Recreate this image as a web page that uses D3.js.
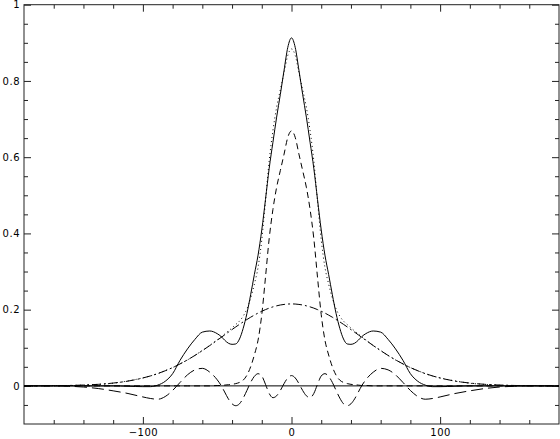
<!DOCTYPE html>
<html lang="en">
<head>
    <meta charset="UTF-8">
    <title>profile</title>
    <script src="https://cdn.jsdelivr.net/npm/d3@7"></script>
</head>
<style>
    body { margin: 0; background: #fff; }
    .tick text { font-family: "DejaVu Sans", sans-serif; font-size: 10px; fill: #000; letter-spacing: 0.5px; }
</style>
<body>
    <div class="chartBox"></div>
    <script>
        // 横坐标采样点
        const xs = [-180, -170, -160, -150, -140, -130, -120, -110, -100, -95, -90, -85, -80, -75, -70, -65, -60, -55,
            -50, -47.5, -45, -42.5, -40, -37.5, -35, -32.5, -30, -27.5, -25, -22.5, -20, -17.5, -15, -12.5, -10, -7.5, -5, -2.5,
            0, 2.5, 5, 7.5, 10, 12.5, 15, 17.5, 20, 22.5, 25, 27.5, 30, 32.5, 35, 37.5, 40, 42.5, 45, 47.5, 50,
            55, 60, 65, 70, 75, 80, 85, 90, 95, 100, 110, 120, 130, 140, 150, 160, 170, 180];

        // 实线: 总和
        const total = [0, 0, 0, 0, 0, 0, 0, -0.001, -0.002, -0.002, 0.002, 0.012, 0.032, 0.067, 0.097, 0.122, 0.141, 0.144,
            0.137, 0.130, 0.120, 0.112, 0.109, 0.110, 0.123, 0.151, 0.190, 0.239, 0.292, 0.343, 0.409, 0.489, 0.571, 0.639, 0.705, 0.765, 0.828, 0.888,
            0.913, 0.888, 0.828, 0.765, 0.705, 0.639, 0.571, 0.489, 0.409, 0.343, 0.292, 0.239, 0.190, 0.151, 0.123, 0.110, 0.109, 0.112, 0.120, 0.130, 0.137,
            0.144, 0.141, 0.122, 0.097, 0.067, 0.032, 0.012, 0.002, -0.002, -0.002, -0.001, 0, 0, 0, 0, 0, 0, 0];

        // 点线: 窄峰 + 宽峰
        const smooth = [0, 0, 0.001, 0.001, 0.002, 0.004, 0.007, 0.013, 0.021, 0.026, 0.032, 0.040, 0.048, 0.058, 0.068, 0.080, 0.093, 0.106,
            0.121, 0.128, 0.136, 0.144, 0.152, 0.161, 0.170, 0.183, 0.202, 0.230, 0.267, 0.311, 0.383, 0.485, 0.591, 0.670, 0.731, 0.777, 0.822, 0.867,
            0.884, 0.867, 0.822, 0.777, 0.731, 0.670, 0.591, 0.485, 0.383, 0.311, 0.267, 0.230, 0.202, 0.183, 0.170, 0.161, 0.152, 0.144, 0.136, 0.128, 0.121,
            0.106, 0.093, 0.080, 0.068, 0.058, 0.048, 0.040, 0.032, 0.026, 0.021, 0.013, 0.007, 0.004, 0.002, 0.001, 0.001, 0, 0];

        // 虚线: 窄峰
        const narrow = [0, 0, 0, 0, 0, 0, 0, 0, 0, 0, 0, 0, 0, 0, 0, 0, 0, 0,
            0.001, 0.001, 0.002, 0.003, 0.004, 0.006, 0.009, 0.015, 0.028, 0.050, 0.081, 0.120, 0.187, 0.285, 0.387, 0.463, 0.521, 0.565, 0.608, 0.652,
            0.669, 0.652, 0.608, 0.565, 0.521, 0.463, 0.387, 0.285, 0.187, 0.120, 0.081, 0.050, 0.028, 0.015, 0.009, 0.006, 0.004, 0.003, 0.002, 0.001, 0.001,
            0, 0, 0, 0, 0, 0, 0, 0, 0, 0, 0, 0, 0, 0, 0, 0, 0, 0];

        // 点划线: 宽峰
        const broad = [0.0001, 0.0002, 0.0005, 0.0011, 0.0022, 0.0041, 0.0074, 0.0126, 0.0207, 0.0260, 0.0323, 0.0396, 0.0480, 0.0576, 0.0682, 0.0799, 0.0925, 0.1058,
            0.1197, 0.1267, 0.1338, 0.1408, 0.1478, 0.1547, 0.1614, 0.1679, 0.1741, 0.1801, 0.1857, 0.1910, 0.1958, 0.2001, 0.2040, 0.2073, 0.2100, 0.2122, 0.2137, 0.2147,
            0.2150, 0.2147, 0.2137, 0.2122, 0.2100, 0.2073, 0.2040, 0.2001, 0.1958, 0.1910, 0.1857, 0.1801, 0.1741, 0.1679, 0.1614, 0.1547, 0.1478, 0.1408, 0.1338, 0.1267, 0.1197,
            0.1058, 0.0925, 0.0799, 0.0682, 0.0576, 0.0480, 0.0396, 0.0323, 0.0260, 0.0207, 0.0126, 0.0074, 0.0041, 0.0022, 0.0011, 0.0005, 0.0002, 0.0001];

        // 长虚线: 振荡项
        const ripple = [0, 0, 0, -0.001, -0.003, -0.007, -0.013, -0.020, -0.029, -0.033, -0.035, -0.028, -0.012, 0.009, 0.029, 0.042, 0.046, 0.036,
            0.016, 0.002, -0.016, -0.034, -0.047, -0.052, -0.047, -0.032, -0.012, 0.009, 0.025, 0.032, 0.026, 0.004, -0.020, -0.031, -0.026, -0.012, 0.006, 0.021,
            0.027, 0.021, 0.006, -0.012, -0.026, -0.031, -0.020, 0.004, 0.026, 0.032, 0.025, 0.009, -0.012, -0.032, -0.047, -0.052, -0.047, -0.034, -0.016, 0.002, 0.016,
            0.036, 0.046, 0.042, 0.029, 0.009, -0.012, -0.028, -0.035, -0.033, -0.029, -0.020, -0.013, -0.007, -0.003, -0.001, 0, 0, 0];

        // 刻度
        const xMajor = [-100, 0, 100];
        const xTickLabels = ["\u2212100", "0", "100"];
        const yMajor = [0, 0.2, 0.4, 0.6, 0.8, 1];
        const yTickLabels = ["0", "0.2", "0.4", "0.6", "0.8", "1"];

        const width = 560;
        const height = 439;
        const svg = d3.select(".chartBox").append("svg").attr("width", width).attr("height", height);

        const x = d3.scaleLinear().domain([-180, 180]).range([24, 559]);
        const y = d3.scaleLinear().domain([-0.1, 1]).range([424, 4.7]);

        const xMinor = d3.range(-160, 161, 20).filter(v => v % 100 !== 0);
        const yMinor = d3.range(-0.05, 1.001, 0.05).filter(v => Math.abs(v * 5 - Math.round(v * 5)) > 1e-6);

        // 坐标轴(刻度朝内)
        const axisG = svg.append("g").attr("class", "axes");
        const addAxis = (axis, tr) => {
            const g = axisG.append("g").attr("transform", tr).call(axis);
            g.select(".domain").remove();
            g.selectAll("line").attr("stroke", "#222");
            return g;
        };
        addAxis(d3.axisBottom(x).tickValues(xMinor).tickSize(-4).tickFormat(""), `translate(0,${y(-0.1)})`);
        addAxis(d3.axisBottom(x).tickValues(xMajor).tickSize(-7).tickPadding(5)
            .tickFormat((d, i) => xTickLabels[i]), `translate(0,${y(-0.1)})`);
        addAxis(d3.axisTop(x).tickValues(xMinor).tickSize(-4).tickFormat(""), `translate(0,${y(1)})`);
        addAxis(d3.axisTop(x).tickValues(xMajor).tickSize(-7).tickFormat(""), `translate(0,${y(1)})`);
        addAxis(d3.axisLeft(y).tickValues(yMinor).tickSize(-4).tickFormat(""), `translate(${x(-180)},0)`);
        addAxis(d3.axisLeft(y).tickValues(yMajor).tickSize(-7).tickPadding(4)
            .tickFormat((d, i) => yTickLabels[i]), `translate(${x(-180)},0)`);
        addAxis(d3.axisRight(y).tickValues(yMinor).tickSize(-4).tickFormat(""), `translate(${x(180)},0)`);
        addAxis(d3.axisRight(y).tickValues(yMajor).tickSize(-7).tickFormat(""), `translate(${x(180)},0)`);

        // 边框
        svg.append("rect")
            .attr("x", x(-180)).attr("y", y(1))
            .attr("width", x(180) - x(-180)).attr("height", y(-0.1) - y(1))
            .attr("fill", "none").attr("stroke", "#222").attr("stroke-width", 1);

        // 零线
        svg.append("line")
            .attr("x1", x(-180)).attr("x2", x(180))
            .attr("y1", y(0)).attr("y2", y(0))
            .attr("stroke", "#000").attr("stroke-width", 1);

        // 曲线
        const line = d3.line()
            .x((d, i) => x(xs[i]))
            .y(d => y(d))
            .curve(d3.curveMonotoneX);

        const series = [
            { values: broad, dash: "9,3,2,3" },
            { values: ripple, dash: "12,5" },
            { values: narrow, dash: "6,4" },
            { values: smooth, dash: "1,3" },
            { values: total, dash: null }
        ];

        svg.append("g").attr("class", "g-lines")
            .selectAll("path")
            .data(series)
            .join("path")
            .attr("d", d => line(d.values))
            .attr("fill", "none")
            .attr("stroke", "#000")
            .attr("stroke-width", 1)
            .attr("stroke-dasharray", d => d.dash);
    </script>
</body>
</html>
